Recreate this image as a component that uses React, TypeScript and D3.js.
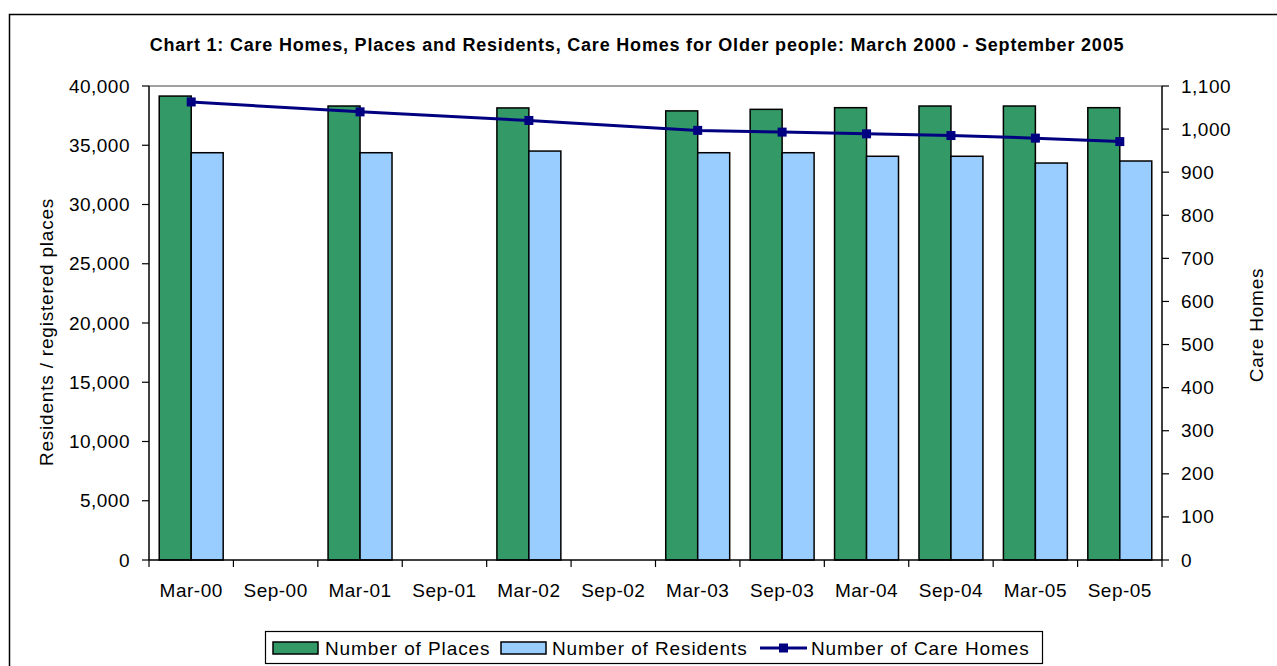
import React, { useRef, useEffect } from 'react';
import * as d3 from 'd3';

const categories = ['Mar-00', 'Sep-00', 'Mar-01', 'Sep-01', 'Mar-02', 'Sep-02', 'Mar-03', 'Sep-03', 'Mar-04', 'Sep-04', 'Mar-05', 'Sep-05'];
const places = [39150, null, 38310, null, 38150, null, 37900, 38030, 38170, 38310, 38310, 38170];
const residents = [34370, null, 34370, null, 34510, null, 34370, 34370, 34070, 34070, 33500, 33670];
const careHomes = [1063, null, 1040, null, 1020, null, 997, 993, 989, 985, 979, 971];
const leftTicks = [0, 5000, 10000, 15000, 20000, 25000, 30000, 35000, 40000];
const rightTicks = [0, 100, 200, 300, 400, 500, 600, 700, 800, 900, 1000, 1100];

const FONT = '"Liberation Sans", Arial, sans-serif';
const GREEN = '#339966';
const BLUE = '#99CCFF';
const NAVY = '#000080';

const App = () => {
  const svgRef = useRef<SVGSVGElement>(null);

  useEffect(() => {
    const W = 1277, H = 666;
    const plot = { left: 149, right: 1162, top: 86, bottom: 560 };

    const svg = d3.select(svgRef.current);
    svg.selectAll('*').remove();
    svg.attr('width', W).attr('height', H).style('font-family', FONT);

    // chart border
    svg.append('rect')
      .attr('x', 9.5).attr('y', 14.5)
      .attr('width', W + 20).attr('height', H + 20)
      .attr('fill', 'white').attr('stroke', 'black').attr('stroke-width', 1.5);

    // title
    svg.append('text')
      .attr('x', 637).attr('y', 51)
      .attr('text-anchor', 'middle')
      .style('font-size', '18px').style('font-weight', 'bold').style('letter-spacing', '0.8px')
      .text('Chart 1: Care Homes, Places and Residents, Care Homes for Older people: March 2000 - September 2005');

    const x = d3.scaleBand<string>().domain(categories).range([plot.left, plot.right]).padding(0);
    const xSub = d3.scaleBand<string>().domain(['places', 'residents']).range([0, x.bandwidth()])
      .paddingInner(0).paddingOuter(0.32);
    const yLeft = d3.scaleLinear().domain([0, 40000]).range([plot.bottom, plot.top]);
    const yRight = d3.scaleLinear().domain([0, 1100]).range([plot.bottom, plot.top]);

    // plot area top border
    svg.append('line')
      .attr('x1', plot.left).attr('x2', plot.right)
      .attr('y1', plot.top).attr('y2', plot.top)
      .attr('stroke', '#808080').attr('stroke-width', 1.5);

    // bars
    const series = [
      { key: 'places', values: places, color: GREEN },
      { key: 'residents', values: residents, color: BLUE },
    ];
    series.forEach(s => {
      svg.append('g').selectAll('rect')
        .data(categories.map((c, i) => ({ c, v: s.values[i] })).filter(d => d.v != null))
        .enter()
        .append('rect')
        .attr('x', d => (x(d.c) as number) + (xSub(s.key) as number))
        .attr('y', d => yLeft(d.v as number))
        .attr('width', xSub.bandwidth())
        .attr('height', d => plot.bottom - yLeft(d.v as number))
        .attr('fill', s.color)
        .attr('stroke', 'black').attr('stroke-width', 1.5);
    });

    const tickStyle = (t: d3.Selection<SVGTextElement, unknown, null, undefined>) =>
      t.style('font-size', '19px').style('letter-spacing', '0.5px');

    // left axis
    const fmt = d3.format(',');
    const gl = svg.append('g');
    gl.append('line').attr('x1', plot.left).attr('x2', plot.left)
      .attr('y1', plot.top).attr('y2', plot.bottom).attr('stroke', 'black').attr('stroke-width', 1.5);
    leftTicks.forEach(t => {
      gl.append('line').attr('x1', plot.left - 7).attr('x2', plot.left)
        .attr('y1', yLeft(t)).attr('y2', yLeft(t)).attr('stroke', 'black').attr('stroke-width', 1.2);
      gl.append('text').attr('x', plot.left - 19).attr('y', yLeft(t) + 6.5)
        .attr('text-anchor', 'end').call(tickStyle).text(fmt(t));
    });

    // right axis
    const gr = svg.append('g');
    gr.append('line').attr('x1', plot.right).attr('x2', plot.right)
      .attr('y1', plot.top).attr('y2', plot.bottom).attr('stroke', 'black').attr('stroke-width', 1.5);
    rightTicks.forEach(t => {
      gr.append('line').attr('x1', plot.right).attr('x2', plot.right + 7)
        .attr('y1', yRight(t)).attr('y2', yRight(t)).attr('stroke', 'black').attr('stroke-width', 1.2);
      gr.append('text').attr('x', plot.right + 19).attr('y', yRight(t) + 6.5)
        .attr('text-anchor', 'start').call(tickStyle).text(fmt(t));
    });

    // x axis
    const gx = svg.append('g');
    gx.append('line').attr('x1', plot.left).attr('x2', plot.right)
      .attr('y1', plot.bottom).attr('y2', plot.bottom).attr('stroke', 'black').attr('stroke-width', 1.5);
    categories.forEach((c, i) => {
      gx.append('line').attr('x1', x(c) as number).attr('x2', x(c) as number)
        .attr('y1', plot.bottom).attr('y2', plot.bottom + 7).attr('stroke', 'black').attr('stroke-width', 1.2);
      gx.append('text').attr('x', (x(c) as number) + x.bandwidth() / 2).attr('y', plot.bottom + 37)
        .attr('text-anchor', 'middle').call(tickStyle).text(c);
      if (i === categories.length - 1) {
        gx.append('line').attr('x1', plot.right).attr('x2', plot.right)
          .attr('y1', plot.bottom).attr('y2', plot.bottom + 7).attr('stroke', 'black').attr('stroke-width', 1.2);
      }
    });

    // axis titles
    svg.append('text')
      .attr('transform', `translate(53,332) rotate(-90)`)
      .attr('text-anchor', 'middle').style('font-size', '19px').style('letter-spacing', '0.8px')
      .text('Residents / registered places');
    svg.append('text')
      .attr('transform', `translate(1263,325) rotate(-90)`)
      .attr('text-anchor', 'middle').style('font-size', '19px').style('letter-spacing', '0.8px')
      .text('Care Homes');

    // line
    const pts = categories.map((c, i) => ({ c, v: careHomes[i] })).filter(d => d.v != null);
    const line = d3.line<{ c: string; v: number | null }>()
      .x(d => (x(d.c) as number) + x.bandwidth() / 2)
      .y(d => yRight(d.v as number));
    svg.append('path').datum(pts).attr('d', line)
      .attr('fill', 'none').attr('stroke', NAVY).attr('stroke-width', 3);
    svg.append('g').selectAll('rect')
      .data(pts).enter().append('rect')
      .attr('x', d => (x(d.c) as number) + x.bandwidth() / 2 - 4.5)
      .attr('y', d => yRight(d.v as number) - 4.5)
      .attr('width', 9).attr('height', 9)
      .attr('fill', NAVY);

    // legend
    const lg = svg.append('g');
    const legendText = (t: d3.Selection<SVGTextElement, unknown, null, undefined>) =>
      t.style('font-size', '19px').style('letter-spacing', '0.9px');
    lg.append('rect').attr('x', 265.5).attr('y', 631.5).attr('width', 777).attr('height', 32)
      .attr('fill', 'white').attr('stroke', 'black').attr('stroke-width', 1.2);
    const ly = 648;
    lg.append('rect').attr('x', 273).attr('y', ly - 6).attr('width', 45).attr('height', 12)
      .attr('fill', GREEN).attr('stroke', 'black').attr('stroke-width', 1.5);
    lg.append('text').attr('x', 325).attr('y', ly + 7).call(legendText).text('Number of Places');
    lg.append('rect').attr('x', 501).attr('y', ly - 6).attr('width', 45).attr('height', 12)
      .attr('fill', BLUE).attr('stroke', 'black').attr('stroke-width', 1.5);
    lg.append('text').attr('x', 552).attr('y', ly + 7).call(legendText).text('Number of Residents');
    lg.append('line').attr('x1', 760).attr('x2', 807).attr('y1', ly).attr('y2', ly)
      .attr('stroke', NAVY).attr('stroke-width', 3);
    lg.append('rect').attr('x', 779).attr('y', ly - 4.5).attr('width', 9).attr('height', 9).attr('fill', NAVY);
    lg.append('text').attr('x', 811).attr('y', ly + 7).call(legendText).text('Number of Care Homes');
  }, []);

  return (
    <div style={{ position: 'absolute', left: 0, top: 0 }}>
      <svg ref={svgRef}></svg>
    </div>
  );
};

export default App;
